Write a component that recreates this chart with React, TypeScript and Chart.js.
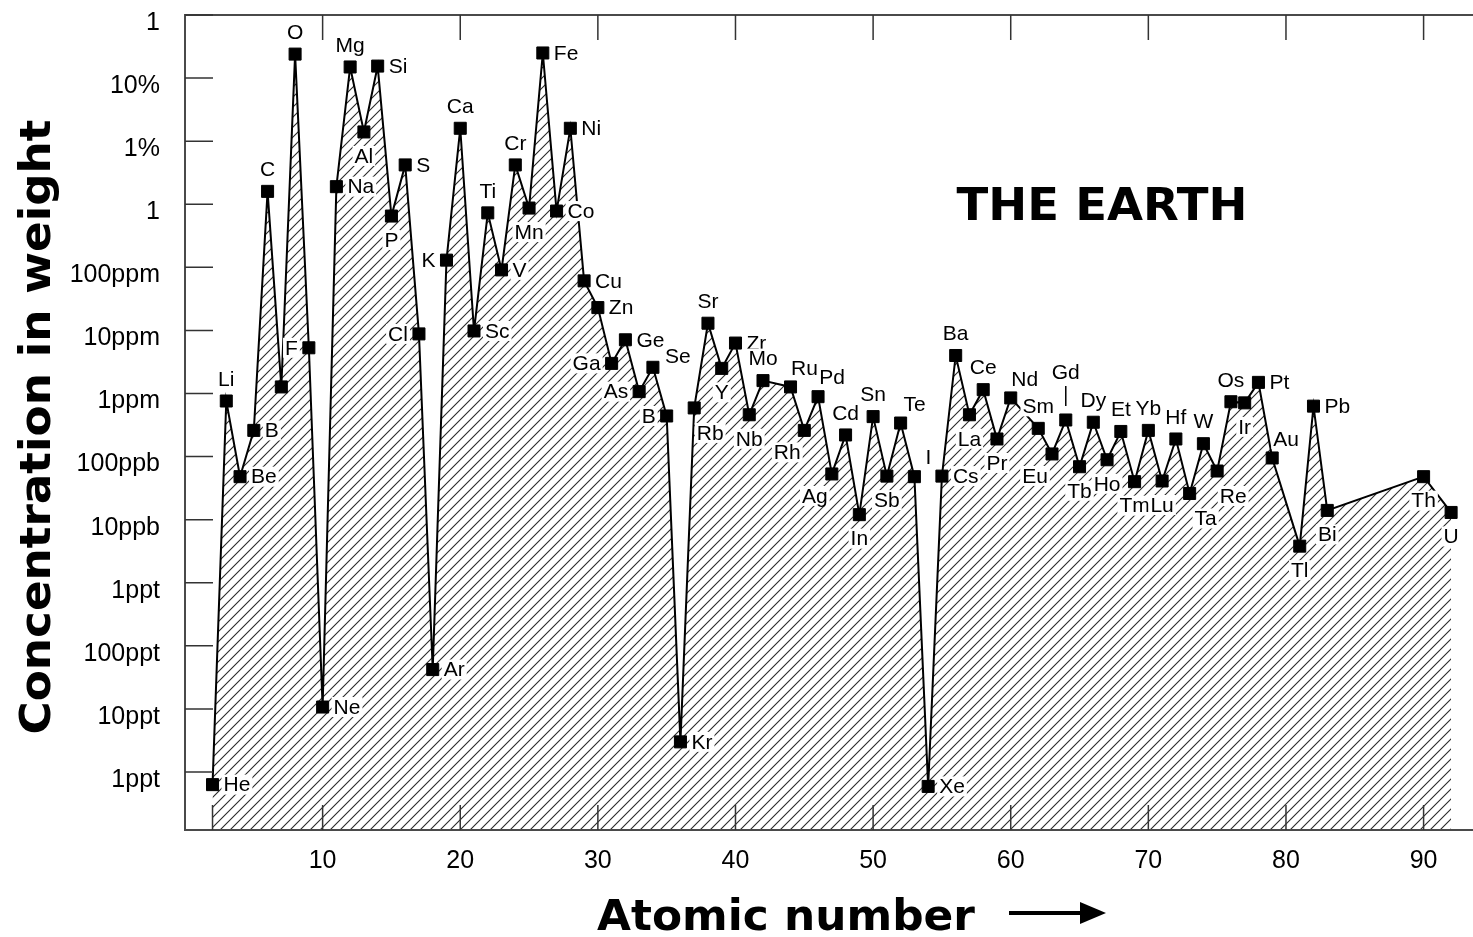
import React, { useEffect, useRef } from 'react';
import { Chart, registerables } from 'chart.js';

Chart.register(...registerables);

// ---- data ----
const ATOMIC_NUMBERS = [
  2, 3, 4, 5, 6, 7, 8, 9, 10, 11, 12, 13, 14, 15, 16, 17, 18, 19, 20, 21, 22, 23, 24, 25, 26, 27, 28, 29, 30,
  31, 32, 33, 34, 35, 36, 37, 38, 39, 40, 41, 42, 44, 45, 46, 47, 48, 49, 50, 51, 52, 53, 54, 55, 56, 57, 58,
  59, 60, 62, 63, 64, 65, 66, 67, 68, 69, 70, 71, 72, 73, 74, 75, 76, 77, 78, 79, 81, 82, 83, 90, 92,
];

const SYMBOLS = [
  'He', 'Li', 'Be', 'B', 'C', '', 'O', 'F', 'Ne', 'Na', 'Mg', 'Al', 'Si', 'P', 'S', 'Cl', 'Ar', 'K', 'Ca', 'Sc',
  'Ti', 'V', 'Cr', 'Mn', 'Fe', 'Co', 'Ni', 'Cu', 'Zn', 'Ga', 'Ge', 'As', 'Se', 'B', 'Kr', 'Rb', 'Sr', 'Y', 'Zr',
  'Nb', 'Mo', 'Ru', 'Rh', 'Pd', 'Ag', 'Cd', 'In', 'Sn', 'Sb', 'Te', 'I', 'Xe', 'Cs', 'Ba', 'La', 'Ce', 'Pr', 'Nd',
  'Sm', 'Eu', 'Gd', 'Tb', 'Dy', 'Ho', 'Et', 'Tm', 'Yb', 'Lu', 'Hf', 'Ta', 'W', 'Re', 'Os', 'Ir', 'Pt', 'Au', 'Tl',
  'Pb', 'Bi', 'Th', 'U',
];

// mass fraction
const CONCENTRATION = [
  6.3e-13, 7.6e-7, 4.8e-8, 2.6e-7, 1.6e-3, 1.27e-6, 0.24, 5.3e-6, 1.07e-11, 1.9e-3, 0.15, 0.014, 0.155, 6.5e-4,
  4.2e-3, 8.8e-6, 4.2e-11, 1.3e-4, 0.016, 9.8e-6, 7.3e-4, 9.1e-5, 4.2e-3, 8.7e-4, 0.25, 7.8e-4, 0.016, 6.1e-5,
  2.3e-5, 3.0e-6, 7.1e-6, 1.07e-6, 2.6e-6, 4.4e-7, 3.0e-12, 5.9e-7, 1.3e-5, 2.5e-6, 6.3e-6, 4.6e-7, 1.6e-6,
  1.27e-6, 2.6e-7, 8.9e-7, 5.3e-8, 2.2e-7, 1.2e-8, 4.3e-7, 4.9e-8, 3.4e-7, 4.8e-8, 5.9e-13, 4.9e-8, 4.0e-6,
  4.6e-7, 1.15e-6, 1.9e-7, 8.5e-7, 2.8e-7, 1.1e-7, 3.8e-7, 6.9e-8, 3.5e-7, 8.9e-8, 2.5e-7, 4.0e-8, 2.6e-7,
  4.1e-8, 1.9e-7, 2.6e-8, 1.6e-7, 5.9e-8, 7.4e-7, 7.1e-7, 1.5e-6, 9.5e-8, 3.8e-9, 6.3e-7, 1.4e-8, 4.8e-8, 1.3e-8,
];

// label side relative to the marker
const LABEL_SIDE = [
  'r', 't', 'r', 'r', 't', '', 't', 'l', 'r', 'r', 't', 'b', 'r', 'b', 'r', 'l', 'r', 'l', 't', 'r',
  't', 'r', 't', 'b', 'r', 'r', 'r', 'r', 'r', 'l', 'r', 'l', 'ru', 'l', 'r', 'br', 't', 'b', 'r',
  'b', 't', 'tr', 'bl', 'tr', 'bl', 't', 'b', 't', 'b', 'tr', 'tr', 'r', 'r', 't', 'b', 't', 'b', 'tr',
  't', 'bl', 'T', 'b', 't', 'b', 't', 'b', 't', 'b', 't', 'br', 't', 'br', 't', 'b', 'r', 'tr', 'b',
  'r', 'b', 'b', 'b',
];

const Y_TICK_VALUES = [1, 1e-1, 1e-2, 1e-3, 1e-4, 1e-5, 1e-6, 1e-7, 1e-8, 1e-9, 1e-10, 1e-11, 1e-12];
const Y_TICK_LABELS = ['1', '10%', '1%', '1', '100ppm', '10ppm', '1ppm', '100ppb', '10ppb', '1ppt', '100ppt', '10ppt', '1ppt'];
const X_TICK_VALUES = [10, 20, 30, 40, 50, 60, 70, 80, 90];
const X_BOTTOM_TICKS = [2, 10, 20, 30, 40, 50, 60, 70, 80, 90];

const Y_TITLE = 'Concentration in weight';
const X_TITLE = 'Atomic number';
const PANEL_TITLE = 'THE EARTH';

const LABEL_FONT = '21px "Liberation Sans", Arial, sans-serif';
const TITLE_FONT = 'bold 42px "DejaVu Sans", sans-serif';

function makeHatch(): CanvasPattern | string {
  const s = 10;
  const c = document.createElement('canvas');
  c.width = s;
  c.height = s;
  const g = c.getContext('2d');
  if (!g) return '#ccc';
  g.strokeStyle = '#2a2a2a';
  g.lineWidth = 1.1;
  g.beginPath();
  g.moveTo(0, s);
  g.lineTo(s, 0);
  g.moveTo(-1, 1);
  g.lineTo(1, -1);
  g.moveTo(s - 1, s + 1);
  g.lineTo(s + 1, s - 1);
  g.stroke();
  return g.createPattern(c, 'repeat') || '#ccc';
}

function drawStretched(
  ctx: CanvasRenderingContext2D,
  text: string,
  cx: number,
  baseY: number,
  target: number,
  font: string,
  rotate: number
) {
  ctx.save();
  ctx.font = font;
  const w = ctx.measureText(text).width;
  const sx = target / w;
  ctx.translate(cx, baseY);
  ctx.rotate(rotate);
  ctx.scale(sx, 1);
  ctx.textAlign = 'center';
  ctx.textBaseline = 'alphabetic';
  ctx.fillStyle = '#000';
  ctx.fillText(text, 0, 0);
  ctx.restore();
}

const framePlugin = {
  id: 'frame',
  afterDatasetsDraw(chart: any) {
    const { ctx, chartArea } = chart;
    const xs = chart.scales.x;
    const ys = chart.scales.y;
    const { left, top, bottom } = chartArea;
    const right = chart.width;
    ctx.save();
    ctx.strokeStyle = '#4a4a4a';
    ctx.lineWidth = 2;
    ctx.beginPath();
    ctx.moveTo(right, top);
    ctx.lineTo(left, top);
    ctx.lineTo(left, bottom);
    ctx.lineTo(right, bottom);
    ctx.stroke();

    ctx.strokeStyle = '#333';
    ctx.lineWidth = 1.5;
    ctx.beginPath();
    Y_TICK_VALUES.forEach((v) => {
      const y = ys.getPixelForValue(v);
      ctx.moveTo(left, y);
      ctx.lineTo(left + 28, y);
    });
    X_TICK_VALUES.forEach((v) => {
      const x = xs.getPixelForValue(v);
      ctx.moveTo(x, top);
      ctx.lineTo(x, top + 25);
    });
    X_BOTTOM_TICKS.forEach((v) => {
      const x = xs.getPixelForValue(v);
      ctx.moveTo(x, bottom);
      ctx.lineTo(x, bottom - 25);
    });
    ctx.stroke();
    ctx.restore();
  },
};

const labelPlugin = {
  id: 'elementLabels',
  afterDatasetsDraw(chart: any) {
    const { ctx } = chart;
    const meta = chart.getDatasetMeta(0);
    ctx.save();
    ctx.font = LABEL_FONT;
    ctx.textBaseline = 'middle';
    meta.data.forEach((pt: any, i: number) => {
      const text = SYMBOLS[i];
      if (!text) return;
      const side = LABEL_SIDE[i];
      let x = pt.x;
      let y = pt.y;
      let align: CanvasTextAlign = 'center';
      switch (side) {
        case 'r': x += 11; align = 'left'; break;
        case 'ru': x += 12; y -= 11; align = 'left'; break;
        case 'l': x -= 11; align = 'right'; break;
        case 't': y -= 22; break;
        case 'T': y -= 48; break;
        case 'b': y += 24; break;
        case 'tr': x += 14; y -= 19; break;
        case 'br': x += 16; y += 25; break;
        case 'bl': x -= 17; y += 22; break;
      }
      const w = ctx.measureText(text).width;
      let x0 = x - w / 2;
      if (align === 'left') x0 = x;
      if (align === 'right') x0 = x - w;
      ctx.fillStyle = '#fff';
      ctx.fillRect(x0 - 2, y - 10, w + 4, 20);
      ctx.fillStyle = '#000';
      ctx.textAlign = align;
      ctx.fillText(text, x, y + 1);
      if (side === 'T') {
        ctx.strokeStyle = '#000';
        ctx.lineWidth = 1.5;
        ctx.beginPath();
        ctx.moveTo(pt.x, pt.y - 34);
        ctx.lineTo(pt.x, pt.y - 14);
        ctx.stroke();
      }
    });
    ctx.restore();
  },
  afterDraw(chart: any) {
    const { ctx } = chart;
    drawStretched(ctx, Y_TITLE, 50, 427, 615, TITLE_FONT, -Math.PI / 2);
    drawStretched(ctx, X_TITLE, 786, 930, 378, TITLE_FONT, 0);
    drawStretched(ctx, PANEL_TITLE, 1102, 220, 291, 'bold 44px "DejaVu Sans", sans-serif', 0);
    // arrow
    ctx.save();
    ctx.strokeStyle = '#000';
    ctx.fillStyle = '#000';
    ctx.lineWidth = 4;
    ctx.beginPath();
    ctx.moveTo(1009, 913);
    ctx.lineTo(1084, 913);
    ctx.stroke();
    ctx.beginPath();
    ctx.moveTo(1080, 902);
    ctx.lineTo(1106, 913);
    ctx.lineTo(1080, 924);
    ctx.closePath();
    ctx.fill();
    ctx.restore();
  },
};

export default function App() {
  const ref = useRef<HTMLCanvasElement | null>(null);

  useEffect(() => {
    const canvas = ref.current;
    if (!canvas) return;
    const points = ATOMIC_NUMBERS.map((z, i) => ({ x: z, y: CONCENTRATION[i] }));
    const chart = new Chart(canvas, {
      type: 'line',
      data: {
        datasets: [
          {
            data: points,
            borderColor: '#000',
            borderWidth: 2,
            tension: 0,
            fill: 'start',
            backgroundColor: makeHatch() as any,
            pointStyle: 'rect',
            pointRadius: 8.5,
            pointBackgroundColor: '#000',
            pointBorderColor: '#000',
            pointBorderWidth: 1,
            clip: false as any,
          },
        ],
      },
      options: {
        animation: false,
        responsive: false,
        maintainAspectRatio: false,
        layout: { padding: { top: 15, left: 0, right: 0, bottom: 0 } },
        plugins: {
          legend: { display: false },
          tooltip: { enabled: false },
        },
        scales: {
          x: {
            type: 'linear',
            min: 0,
            max: 92.9,
            grid: { display: false },
            border: { display: false },
            afterBuildTicks: (s: any) => {
              s.ticks = X_TICK_VALUES.map((v) => ({ value: v }));
            },
            afterFit: (s: any) => {
              s.height = 107;
              s.paddingLeft = 0;
              s.paddingRight = 0;
            },
            ticks: {
              color: '#000',
              font: { family: '"Liberation Sans", Arial, sans-serif', size: 25 },
              padding: 8,
              maxRotation: 0,
              autoSkip: false,
              callback: (v: any) => String(v),
            },
          },
          y: {
            type: 'logarithmic',
            min: Math.pow(10, -12.92),
            max: 1,
            grid: { display: false },
            border: { display: false },
            afterBuildTicks: (s: any) => {
              s.ticks = Y_TICK_VALUES.slice().reverse().map((v) => ({ value: v }));
            },
            afterFit: (s: any) => {
              s.width = 185;
              s.paddingTop = 0;
              s.paddingBottom = 0;
            },
            ticks: {
              color: '#000',
              font: { family: '"Liberation Sans", Arial, sans-serif', size: 25 },
              padding: 17,
              labelOffset: 8,
              autoSkip: false,
              callback: (v: any) => {
                const idx = Y_TICK_VALUES.findIndex((t) => Math.abs(Math.log10(t) - Math.log10(Number(v))) < 1e-6);
                return idx >= 0 ? Y_TICK_LABELS[idx] : '';
              },
            },
          },
        },
      },
      plugins: [framePlugin, labelPlugin],
    });
    return () => chart.destroy();
  }, []);

  return (
    <div style={{ position: 'fixed', left: 0, top: 0, width: 1473, height: 937, background: '#fff' }}>
      <canvas ref={ref} width={1473} height={937} style={{ display: 'block' }} />
    </div>
  );
}
